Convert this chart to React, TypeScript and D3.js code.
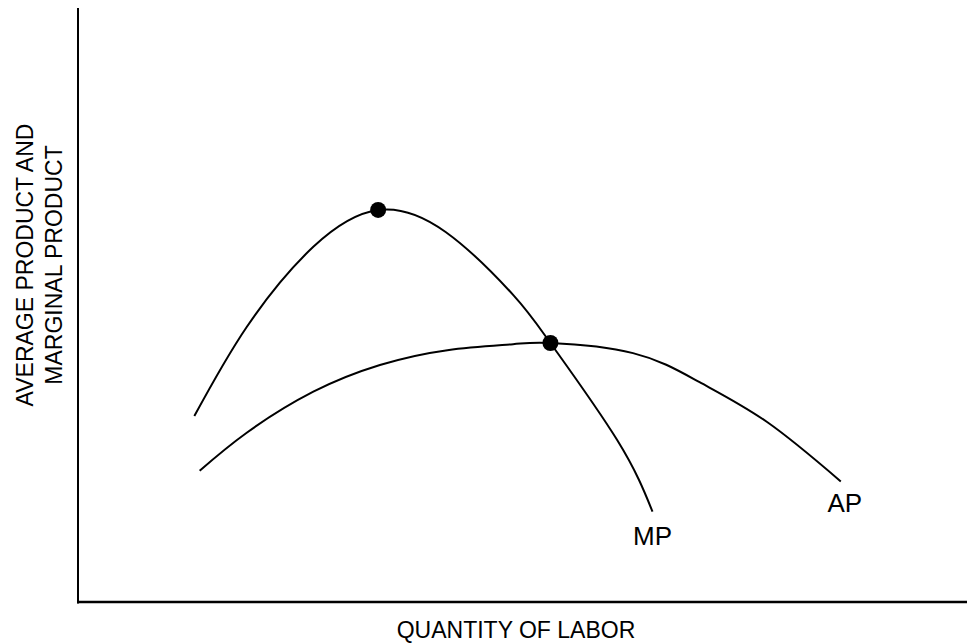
import React from "react";
import * as d3 from "d3";

// Quantity of labor (0-100 index) and product values (0-100 index)
const mpX = [13.1, 19.0, 26.5, 33.8, 41.4, 49.0, 53.2, 60.7, 64.7];
const mpY = [31.3, 46.3, 59.8, 66.0, 62.3, 51.7, 43.6, 27.3, 15.2];

const apX = [13.7, 19.0, 26.5, 34.0, 41.6, 49.0, 53.2, 62.5, 70.0, 77.6, 85.9];
const apY = [22.1, 28.5, 35.4, 39.9, 42.4, 43.4, 43.6, 41.9, 37.0, 30.3, 20.3];

// Marked points: MP maximum, and MP = AP at AP maximum
const dotX = [33.8, 53.2];
const dotY = [66.0, 43.6];

const curveLabels = ["MP", "AP"];
const xTitle = "QUANTITY OF LABOR";
const yTitleLines = ["AVERAGE PRODUCT AND", "MARGINAL PRODUCT"];

export default function App() {
  const W = 967;
  const H = 644;
  const x = d3.scaleLinear().domain([0, 100]).range([78, 966]);
  const y = d3.scaleLinear().domain([0, 100]).range([602, 8]);

  const line = d3
    .line<[number, number]>()
    .x((d) => x(d[0]))
    .y((d) => y(d[1]))
    .curve(d3.curveNatural);

  const mp: [number, number][] = mpX.map((v, i) => [v, mpY[i]]);
  const ap: [number, number][] = apX.map((v, i) => [v, apY[i]]);
  const mpEnd = mp[mp.length - 1];
  const apEnd = ap[ap.length - 1];

  const font = "'Liberation Sans', Arial, sans-serif";

  return (
    <svg
      width={W}
      height={H}
      style={{ position: "absolute", left: 0, top: 0, background: "#fff" }}
    >
      <rect x={0} y={0} width={W} height={H} fill="#fff" />
      {/* axes */}
      <line x1={x(0)} y1={y(100)} x2={x(0)} y2={y(0) + 1.5} stroke="#000" strokeWidth={2} />
      <line x1={x(0) - 1} y1={y(0)} x2={x(100) + 1} y2={y(0)} stroke="#000" strokeWidth={2.6} />

      <path d={line(mp) || ""} fill="none" stroke="#000" strokeWidth={2} />
      <path d={line(ap) || ""} fill="none" stroke="#000" strokeWidth={2} />

      {dotX.map((v, i) => (
        <circle key={i} cx={x(v)} cy={y(dotY[i])} r={8} fill="#000" />
      ))}

      <text
        x={x(mpEnd[0])}
        y={y(mpEnd[1]) + 33}
        textAnchor="middle"
        fontFamily={font}
        fontSize={26}
        fill="#000"
      >
        {curveLabels[0]}
      </text>
      <text
        x={x(apEnd[0]) + 4}
        y={y(apEnd[1]) + 31}
        textAnchor="middle"
        fontFamily={font}
        fontSize={26}
        fill="#000"
      >
        {curveLabels[1]}
      </text>

      <text
        x={516}
        y={638}
        textAnchor="middle"
        fontFamily={font}
        fontSize={23}
        fill="#000"
      >
        {xTitle}
      </text>

      <g transform="translate(0,265) rotate(-90)">
        {yTitleLines.map((t, i) => (
          <text
            key={i}
            x={0}
            y={33 + i * 29}
            textAnchor="middle"
            fontFamily={font}
            fontSize={23}
            fill="#000"
          >
            {t}
          </text>
        ))}
      </g>
    </svg>
  );
}
